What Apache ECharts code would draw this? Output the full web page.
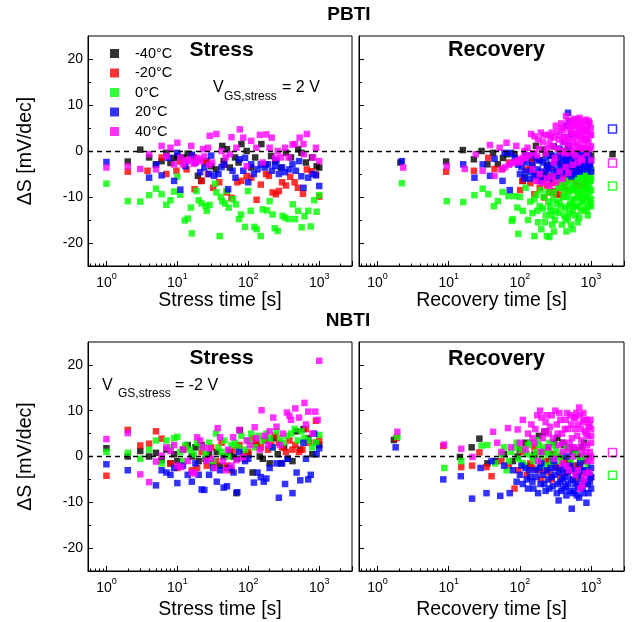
<!DOCTYPE html>
<html>
<head>
<meta charset="utf-8">
<title>PBTI / NBTI</title>
<script src="https://cdn.jsdelivr.net/npm/echarts@6/dist/echarts.min.js"></script>
<style>
    html, body { margin: 0; padding: 0; background: #fff; }
    #container { width: 638px; height: 622px; }
</style>
</head>
<body>
<div id="container"></div>
<script>
var temps = ['-40°C', '-20°C', '0°C', '20°C', '40°C'];
var colors = ['#000000', '#ff0000', '#00ff00', '#0000ff', '#ff00ff'];
var yLabelTicks = [-20, -10, 0, 10, 20];
var yMinorTicks = [-15, -5, 5, 15];

// PBTI stress  [time s, dS mV/dec]
var pbtiStressM40 = [[2,-2.3],[3,0.3],[4,-1.4],[5,-2.9],[6,-2.2],[7,-0.4],[8,-2.6],[9,-1.5],[10,-1.1],[12,-1.4],[14,-0.6],[17,-1.4],[19.5,-5.4],[21.7,-6.5],[26,-2.2],[30,-3.3],[35,-4],[43,1.1],[45,-2.2],[50,0.4],[55,-3.6],[65,-1.4],[73,-2.5],[80,1.5],[95,0],[110,-3.6],[125,-1.4],[153,1.5],[175,-2.9],[210,-1.1],[240,-2.2],[290,-3.6],[340,-0.4],[400,-1.4],[505,0.4],[560,-0.4],[650,-2.5],[790,-1.4],[920,-3.3],[1000,-3.6]];
var pbtiStressM20 = [[2,-4.5],[3.8,-4.3],[6,-1.4],[7,-5],[9.7,-4.3],[11,-2.3],[13.5,-4],[16,-1],[17.5,-8.3],[22,-6.5],[25,-2.5],[27,-5],[32,-8],[39,-6.8],[45,-3],[50,-9],[58,-10.2],[70,-6.8],[80,-6.5],[95,-5.4],[110,-5.8],[131,-10.6],[150,-7.3],[178,-5],[195,-5.4],[220,-9],[245,-9.4],[270,-8.7],[300,-6.8],[340,-7.5],[390,-5.6],[450,-6.8],[500,-8],[590,-9.3],[670,-4],[780,-4.4],[900,-5.1],[1000,-9.9]];
var pbtiStress0 = [[1,-7.1],[2,-10.9],[3,-11],[4,-9.6],[5,-8.2],[6,-9.4],[7,-11.7],[8,-10.7],[9,-8.8],[10,-5.6],[11,-9.5],[12.7,-15.1],[14,-14.7],[15.5,-12.3],[16,-17.9],[18.6,-8.7],[20,-10.7],[22,-11.4],[25,-12],[26,-13],[28.5,-11.7],[34,-7.1],[35.5,-9],[39.5,-18.5],[41,-10],[43,-10.9],[47,-11.4],[49,-8.7],[53,-12.3],[61,-10.5],[67,-11.6],[74,-14.8],[79,-13.8],[90,-16.5],[99,-8.7],[108,-13],[122,-16.5],[131,-17],[150,-18.5],[160,-12.7],[183,-12.9],[200,-10.9],[220,-13.8],[236,-16.8],[260,-17.4],[305,-14.1],[330,-14.5],[370,-14.8],[425,-11.6],[455,-14.8],[505,-13],[565,-16.6],[620,-14.2],[700,-13],[760,-16.4],[850,-10.7],[920,-13.2],[1000,-9.6]];
var pbtiStress20 = [[1,-2.4],[4,-5.8],[5,-3],[6,-5.3],[7.5,-1.5],[9,-6.5],[10,-0.4],[11,-8.4],[13,-3.3],[16,-0.8],[18,-2.5],[21,-4.6],[24,-3.6],[28,-5],[30,-1],[33,-5.4],[38,-5],[42,-3.5],[46,-2.9],[52,-8.3],[60,-4.3],[66,-5.8],[75,-1.8],[85,-4.3],[90,-1.5],[100,-6.8],[110,-2.9],[120,-5],[135,-4],[150,-2.9],[170,-3.6],[190,-2.9],[215,-4.3],[240,-3.3],[250,-2],[270,-5],[300,-3.6],[330,-4.6],[380,-4],[420,-2.9],[470,-4.3],[520,-2.2],[560,-5.5],[600,-8],[700,-5.8],[820,-5],[900,-5.3],[1000,-7.6]];
var pbtiStress40 = [[1,-3.6],[2,-3.3],[3,-3.9],[4,-0.7],[5,-4],[6,1.1],[7,-1.1],[8,0.7],[9,-2.9],[10,1.8],[11,-1.4],[12,-2.9],[13,-2],[14,-2.2],[15,-1.8],[15.7,1.1],[17,-2.8],[18,-2.5],[19,-1.5],[20,-1.8],[21,-2.2],[23,0.4],[24,-1.2],[27,0.7],[28,-3],[28.6,3.3],[31,-2.5],[35.5,3.7],[42,0],[48,-1.4],[55,-0.7],[58,3],[68,0.7],[76,4.7],[85,2.9],[95,-3.3],[110,2.2],[130,0.7],[146,3.5],[160,-2.5],[180,3.6],[200,0.7],[214,2.9],[240,-1.5],[260,0],[290,-1.4],[330,0.7],[370,-1.4],[420,1.4],[455,1.5],[530,2.9],[600,1.5],[610,-0.7],[670,3.7],[820,-1.4],[900,0.7],[1000,-2.2]];

// PBTI recovery
var pbtiRecM40 = [[2.1,-2.5],[9.2,-2.3],[15.8,0.2],[22.6,-1.8],[29,0],[35,-2.9],[42,-0.4],[49,-2.9],[58,-1.5],[67,-0.7],[84,-0.7],[109,-6.5],[116,-5.8],[120,-1],[140,-4],[150,-1.5],[168,1.1],[190,-2],[210,0.3],[230,-0.5],[240,-3],[270,-1],[300,1],[320,-1.5],[340,-2.5],[380,0],[430,-1.5],[450,0],[480,1],[520,-1],[540,-3],[600,-0.5],[640,-1],[680,-2],[720,-2.5],[760,0.5],[820,-1.5],[870,-0.4],[950,-2.5],[1000,-1],[2000,-0.7]];
var pbtiRecM20 = [[9.2,-4.5],[22.6,-4.3],[36,-1.5],[44,-3.9],[57,-3.9],[71,-2.5],[101,-8.5],[110,-6.5],[125,-4],[140,-7],[150,-2.5],[160,-9.4],[175,-5],[180,-6.5],[190,-8],[205,-6],[220,-10.1],[230,-4.5],[240,-7.5],[260,-9],[270,-3.5],[280,-5.5],[290,-7],[300,-8.7],[320,-9.4],[320,-2],[340,-6.5],[350,-5.5],[360,-9.5],[380,-8],[390,-5],[400,-3],[420,-7.5],[430,-6],[450,-4],[470,-8.5],[490,-2.9],[520,-6],[540,-4.5],[560,-3.5],[590,-8],[610,-6.9],[630,-4],[650,-5],[700,-2.5],[720,-7.5],[750,-6],[780,-5],[800,-4],[850,-7],[880,-5.5],[930,-4.3],[960,-6.5],[1000,-4]];
var pbtiRec0 = [[2.2,-7],[9.4,-10.9],[16,-11.1],[23,-9.6],[30,-8.2],[36,-9.4],[43,-12],[49,-10.9],[57,-8.9],[69,-9.8],[77,-15.2],[79,-14.8],[84,-9.8],[92,-12.3],[95,-18],[100,-10],[110,-13],[120,-8],[130,-15],[140,-11],[150,-13.5],[160,-18.5],[160,-10.5],[170,-9.5],[175,-13],[180,-15.5],[190,-12],[195,-8.5],[200,-17],[210,-12.5],[215,-10],[225,-15.5],[230,-14],[240,-18.5],[245,-9],[250,-11],[260,-18.7],[265,-12],[270,-13],[280,-14],[285,-16],[295,-10.5],[300,-9],[300,-17.5],[310,-15],[320,-13],[330,-11.5],[340,-6],[350,-13.5],[350,-8],[360,-11],[370,-7.5],[380,-12],[390,-16],[400,-8],[410,-10],[420,-9],[420,-14],[430,-12.5],[440,-15],[450,-6.5],[450,-10],[450,-17.5],[470,-14.5],[470,-7.5],[480,-12],[490,-9],[500,-13.5],[510,-11.5],[520,-16],[520,-8.5],[530,-5.5],[540,-10.5],[550,-13],[550,-17],[560,-7],[560,-12],[580,-8],[580,-5.5],[600,-10.5],[600,-14],[600,-8.5],[620,-4.5],[620,-12],[640,-9],[640,-6],[650,-12],[650,-15.5],[660,-10],[680,-7],[680,-14.5],[700,-9.5],[700,-5.5],[720,-13],[720,-8],[730,-5],[740,-11],[760,-11],[760,-6],[780,-9],[790,-6.5],[800,-10],[800,-12.5],[820,-8.5],[830,-5],[850,-4],[850,-7.5],[870,-13],[880,-10],[890,-8],[900,-12],[900,-14],[910,-6],[920,-10.5],[940,-7.5],[940,-4.5],[950,-9],[960,-11.5],[970,-5],[980,-6.5],[1000,-8.5],[1000,-4],[1000,-10.5],[1000,-12],[1000,-6]];
var pbtiRec20 = [[2.2,-2.2],[16,-2.9],[23,-5.8],[30,-2.9],[38,-5.4],[44,-1.7],[57,-6.5],[61,-0.4],[72,-8.5],[75,-0.4],[85,-1.5],[95,-3],[100,-5],[105,-3.5],[110,-2],[115,-6],[120,-4.5],[125,-2.5],[130,-1],[140,-6],[145,-4.5],[150,-3],[155,-1],[160,-5.5],[170,-1.5],[175,-5.5],[180,-4],[185,-2],[195,-6.5],[200,-4.5],[210,-2.5],[220,-6],[225,-5],[235,-1.5],[240,-3.5],[250,-4],[260,-6],[270,-3],[280,-1],[290,-5.5],[300,-4.5],[310,-2],[320,-2.5],[330,-4],[340,-5.5],[350,-1],[360,0.5],[370,-5],[380,-3.5],[390,-2.5],[400,-1.5],[410,-4.5],[420,2],[430,-1],[440,-4],[450,5.5],[450,-3],[460,-2],[470,-5],[475,8.3],[490,1],[500,6.5],[500,-1.5],[510,-3],[520,3.5],[530,-5.5],[540,-3.5],[550,-1],[570,-5],[580,-2.5],[600,-2],[610,-4.5],[630,-3.5],[640,-0.5],[660,-1],[670,-3],[690,-4.5],[700,-1.5],[720,-3],[740,-4],[760,-1],[780,-2],[800,-3.5],[820,-0.5],[840,-2],[860,-3],[880,-4],[900,-1.5],[920,-0.5],[950,-3.5],[970,-3],[1000,-2],[1000,-4.5]];
var pbtiRec40 = [[2.3,-3.6],[9.4,-3.3],[16.8,-3.9],[24,-0.7],[30,-4.3],[38,1.3],[44,-5.4],[52,0.7],[55,-4],[62,-3.5],[65,1.8],[70,-3],[78,-2.7],[86,-2.4],[89,1.1],[95,-2],[100,-2.5],[105,-1.8],[110,-1.5],[116,0],[120,-1.5],[128,0.7],[135,-1],[144,3.7],[150,-4],[155,-0.5],[160,3.2],[170,-6.5],[175,-1],[180,2.5],[185,0.5],[190,-5],[197,4],[210,2],[210,-7],[220,3.5],[230,-0.5],[240,-6],[240,0.5],[250,3.5],[260,-7.5],[260,1.5],[270,2.9],[280,4],[290,1],[290,-5.5],[300,3],[300,-2.5],[310,-1.5],[320,-6.8],[320,5.5],[330,4.2],[340,0.5],[350,2.5],[360,-4.5],[360,3.5],[370,0],[380,6],[390,5],[400,-6],[400,2],[410,4.5],[420,3],[420,-0.5],[430,0],[440,-3.5],[445,7.6],[450,3],[460,1.5],[470,6.5],[480,5.5],[480,-4.8],[490,2.5],[500,-0.5],[510,5],[520,4],[530,1],[540,6.5],[550,-3],[550,4],[560,2],[570,7],[580,5.5],[580,0],[590,3],[600,-1],[610,5.5],[620,3.5],[630,1.5],[640,6.8],[650,-2.5],[660,1],[660,4],[680,4.5],[690,7.2],[700,6],[700,0.5],[710,2.5],[720,-1.5],[730,5],[740,3],[750,-2],[760,5.5],[770,3.5],[780,0.5],[790,1.5],[800,6.5],[820,2.5],[830,4.5],[850,4.5],[860,6.8],[870,-0.5],[880,2.5],[880,0.5],[900,5.5],[910,4],[920,2],[930,6.5],[950,6],[960,0.5],[970,3.5],[990,5],[1000,1],[1000,-2],[1000,3.5]];
var pbtiRecEnd0 = [[2000,-7.6]];
var pbtiRecEnd20 = [[2000,4.8]];
var pbtiRecEnd40 = [[2000,-2.6]];

// NBTI stress
var nbtiStressM40 = [[1,1.8],[2,0],[3,1.2],[4,0],[5,0.8],[6,-0.8],[7,1.5],[8,-1.5],[9,0.5],[10,-1],[12,1.5],[14,2.5],[16,0],[18,2],[20,-1],[22,2.5],[25,-0.5],[28,0.5],[32,-1.5],[36,1],[40,-2],[45,0],[50,-2.5],[55,1],[62,0],[68,-8],[70,-0.5],[76,5.7],[90,-0.5],[100,0.5],[115,-3.5],[130,2.5],[145,0],[160,-0.5],[180,3.5],[200,-1.5],[230,4],[260,0.5],[290,-1.5],[320,2],[360,-0.5],[420,-1],[480,5.5],[540,1.5],[600,6],[700,4],[800,0.5],[900,3],[1000,2.5]];
var nbtiStressM20 = [[1,-4.2],[2,5.8],[3,2.4],[4,2.8],[5,5.5],[6,3.9],[8,-1.5],[10,-2.5],[13,2],[16,-3],[19,-2.5],[22,1],[26,-2],[30,2],[35,-1],[42,3],[50,-2],[58,-3],[65,1.5],[75,2.5],[85,0.5],[100,1],[115,4],[130,3],[150,2],[170,3.5],[190,1.5],[210,2.5],[240,4.5],[270,3],[300,2],[340,1],[380,3.5],[420,1.5],[460,2.5],[520,1],[580,1.5],[650,6],[720,3],[900,7.8],[1000,3.5]];
var nbtiStress0 = [[1,1],[2,0.8],[3,-0.5],[4,1.5],[5,3.5],[6,-1.5],[7,3.5],[8,2],[9,4],[10,4.3],[11,1],[12,-1],[13,2.5],[15,1.5],[17,0.5],[19,3],[22,2],[25,0.5],[28,3],[32,-1],[35,5],[38,2],[42,1],[46,3.5],[52,0],[58,2.5],[65,3],[72,2],[80,4.5],[90,1.5],[100,3.5],[110,5],[125,2],[140,4.5],[160,3.5],[180,5],[200,4],[220,2],[250,5.5],[280,4],[310,3],[350,4.5],[400,5],[450,6],[500,3.5],[560,5.5],[620,4],[700,3.5],[800,2],[900,3],[1000,4.7]];
var nbtiStress20 = [[1,-1.7],[2,-3],[5,-6.3],[6,-3],[7,-3.5],[8,-4],[9,-2.5],[10,-5.8],[12,-2],[14,-4],[16,-5.5],[18,-1.5],[20,-4],[22,-7.2],[24,-7.3],[28,-4],[32,-2.5],[36,-5.5],[40,-3],[45,-6.8],[50,-6.5],[55,-2.5],[62,-3.5],[70,-7.8],[75,1],[80,-3],[90,-1],[100,-0.5],[120,-5.7],[135,-3.5],[150,-4.5],[165,-5.5],[180,-4.8],[200,-2.5],[220,2],[250,-1.5],[270,-9],[300,-1.5],[330,-6],[360,-0.5],[420,-8],[480,-3.5],[540,-5.2],[600,3],[650,-0.5],[700,-5],[760,-4],[850,5],[920,0.5],[1000,1.8]];
var nbtiStress40 = [[1,3.8],[2,5.1],[3,-3.9],[4,-5.6],[5,-1.1],[6,0.2],[7,2],[8,1.2],[9,2.5],[10,-2],[11.4,-2.3],[12,1.5],[14,-1],[16,-3.5],[17.5,-3.7],[19,4.2],[21,3.5],[23,2],[25.6,-0.9],[28,1.8],[30,-0.5],[33,-2.5],[37,6.2],[40,4.2],[44,-1],[48,-3],[52,1.5],[58,-2],[61,4.2],[68,-0.8],[75,5.8],[85,-0.2],[95,3.5],[105,2.5],[123,6.4],[130,4],[145,1.5],[154,10.1],[170,4.5],[190,2.5],[200,5.5],[225,8.5],[250,6.5],[280,2.5],[310,5],[350,9.6],[380,8.9],[400,8],[460,10.5],[520,8.5],[620,11.7],[650,7],[700,9.8],[800,5],[880,9.8],[950,8],[1000,20.9]];

// NBTI recovery
var nbtiRecM40 = [[1.7,3.6],[14.4,-0.1],[21,2],[27,3.9],[35,-1.5],[45,-1],[60,0.5],[80,-1],[93,0],[100,1.5],[120,3],[140,-2],[160,0.4],[185,4.5],[210,1],[220,5.3],[232,5.5],[250,2],[260,-1],[280,0.5],[300,3],[335,4.1],[380,0],[400,3],[420,2.5],[480,-1.5],[500,2],[550,1],[600,1.5],[650,-2],[700,0],[750,2],[800,3],[850,-1],[930,-0.1]];
var nbtiRecM20 = [[1.85,4],[8.4,2.3],[15,-2.3],[21.3,-2],[27,0.9],[34,-2.3],[40,-4.3],[55,-1],[70,-2],[84,-7],[95,-3],[110,1],[125,-4],[140,-1.5],[150,-2.5],[160,2],[180,-3],[200,-5],[220,-3],[230,-1],[260,-3.5],[280,-5],[300,0.5],[320,-2],[340,-2.5],[380,-4.5],[430,-1],[450,-3.5],[500,-3],[550,-2],[600,-5],[650,-4],[700,-2],[750,-3.5],[800,-6],[900,-3.5],[1000,-4.5]];
var nbtiRec0 = [[1.9,4.3],[8.7,-2.5],[15,-1],[29,2.4],[35,2.5],[45,-1.5],[55,0.5],[60,2],[65,-3],[70,-1],[75,1],[85,2],[90,3],[95,-0.5],[105,1.5],[110,-1.5],[115,-2],[125,0.5],[130,2.5],[140,3],[150,0],[155,-1],[170,1],[175,3.5],[185,2.5],[195,-2],[200,-0.5],[215,2],[220,1],[240,-2],[250,0.5],[260,3],[280,-1.5],[290,0],[310,2.5],[320,1.5],[330,0],[360,-1],[400,0.5],[450,2],[520,-1],[600,0.5],[700,-0.5],[790,0],[900,-2]];
var nbtiRec20 = [[1.8,2],[8.4,-5],[14.8,-4.3],[21.3,-9.2],[28,-2.5],[34,-8],[40,-1],[53,-8.6],[60,-2],[72,-8],[80,-3],[90,-5.5],[100,-4],[105,-2],[110,-6],[120,-2.5],[125,-5],[130,-7],[135,-3],[140,-4.5],[150,-5.5],[155,-7],[165,-3],[170,-4.5],[180,-8],[190,-2.5],[195,-6],[200,-1.5],[210,-4],[220,-6],[230,-7.5],[240,-3],[250,-5],[260,-7],[270,-2.5],[280,-4.5],[290,-6.5],[300,-1],[310,-4],[320,-2.5],[330,-8],[340,-6],[350,-9.6],[360,-3.5],[370,-5.5],[380,-7.5],[390,-3],[400,-5],[410,-7],[420,-2],[430,-4.5],[440,-6.5],[450,-8.5],[450,0],[470,-3.5],[480,-6],[500,-7.5],[510,-2],[520,-5],[535,-11.4],[550,-8],[560,-5],[570,-3],[590,-7.5],[600,-6],[620,-3.5],[630,-8.5],[650,-6.5],[660,-4],[680,-9],[690,-6.5],[700,-1.5],[720,-5],[740,-3],[760,-7],[780,-8],[800,-3],[820,-5.5],[860,-10.1],[880,-3.5],[900,-6],[920,-8],[950,-4],[960,-5.5],[1000,-7],[1000,-2.5],[1000,-4.5]];
var nbtiRec40 = [[1.9,5.4],[8.6,2.6],[15,1.7],[21.6,-0.1],[42,5.4],[48,3],[55,1],[68,6.2],[75,2],[93,5.9],[100,3],[110,8],[120,1.5],[130,5],[145,7],[150,4],[160,3],[165,6],[175,9],[180,-1],[192,10],[200,1],[200,8.5],[210,4],[220,5.5],[230,7.5],[240,9],[250,2],[255,5],[265,6.5],[280,9],[290,4],[300,-0.5],[315,10],[330,7],[340,5],[350,2.5],[360,9.5],[370,8],[390,5],[400,1],[400,-1.5],[410,3],[430,6],[440,8],[450,-2],[460,9.5],[470,6],[480,1.5],[490,-3],[500,3],[510,9],[530,7],[540,4],[550,2],[560,0],[570,8.5],[590,6],[600,8.5],[600,-4],[620,9.5],[620,2],[640,4.5],[650,-3],[660,7],[680,10.7],[700,9],[700,-7],[720,6],[730,3.5],[740,0.5],[750,-6.3],[760,2],[770,7.5],[780,9.5],[800,8],[800,-5],[820,5.5],[840,-3.7],[850,5],[850,1],[870,8],[880,2.5],[900,-1],[900,4.5],[920,6.5],[950,7],[950,-3.5],[960,1],[980,8],[1000,3],[1000,6],[1000,-1],[1000,4.5],[1000,0]];
var nbtiRecEnd0 = [[2000,-4.1]];
var nbtiRecEnd40 = [[2000,0.9]];

BtiChartModule = (function (echarts) {
    var FONT = '"Liberation Sans", Arial, sans-serif';
    var chart;

    function logLabel(v) {
        var e = Math.log10(v);
        if (Math.abs(e - Math.round(e)) > 1e-6) return '';
        return '{b|10}{p|' + Math.round(e) + '}';
    }

    function filled(name, data, k, c) {
        return {
            type: 'scatter', name: name, data: data,
            xAxisIndex: k, yAxisIndex: k,
            symbol: 'rect', symbolSize: 6.5,
            itemStyle: { color: c },
            silent: true
        };
    }

    function hollow(data, k, c) {
        return {
            type: 'scatter', name: 'end', data: data,
            xAxisIndex: k, yAxisIndex: k,
            symbol: 'rect', symbolSize: 8,
            itemStyle: { color: '#fff', borderColor: c, borderWidth: 1.5 },
            silent: true
        };
    }

    var BtiClass = function () {
        this.init = function () {
            chart = echarts.init(document.getElementById('container'), null, { renderer: 'canvas' });
            chart.setOption(this.buildOption());
        };
    };

    BtiClass.prototype = {
        buildOption: function () {
            var grids = [
                { left: 88, top: 36, width: 264, height: 230 },
                { left: 359, top: 36, width: 265, height: 230 },
                { left: 88, top: 342, width: 264, height: 229 },
                { left: 359, top: 342, width: 265, height: 229 }
            ];
            var panels = [
                [pbtiStressM40, pbtiStressM20, pbtiStress0, pbtiStress20, pbtiStress40],
                [pbtiRecM40, pbtiRecM20, pbtiRec0, pbtiRec20, pbtiRec40],
                [nbtiStressM40, nbtiStressM20, nbtiStress0, nbtiStress20, nbtiStress40],
                [nbtiRecM40, nbtiRecM20, nbtiRec0, nbtiRec20, nbtiRec40]
            ];
            var xAxes = [], yAxes = [], series = [];

            grids.forEach(function (g, k) {
                g.show = true;
                g.borderColor = '#000';
                g.borderWidth = 1;
                g.outerBoundsMode = 'none';
                xAxes.push({
                    type: 'log', gridIndex: k, min: 0.55, max: 2900,
                    name: k % 2 ? 'Recovery time [s]' : 'Stress time [s]',
                    nameLocation: 'middle', nameGap: k < 2 ? 24 : 29,
                    nameTextStyle: { fontFamily: FONT, fontSize: 19.5, color: '#000' },
                    axisLine: { show: true, onZero: false, lineStyle: { color: '#000', width: 1 } },
                    axisTick: { show: true, inside: true, length: 5, lineStyle: { color: '#000' } },
                    minorTick: { show: true, splitNumber: 9, length: 2.5, lineStyle: { color: '#000' } },
                    splitLine: { show: false },
                    minorSplitLine: { show: false },
                    axisLabel: {
                        margin: 6, formatter: logLabel, color: '#000',
                        rich: {
                            b: { fontFamily: FONT, fontSize: 14, color: '#000', lineHeight: 18, verticalAlign: 'bottom' },
                            p: { fontFamily: FONT, fontSize: 9, color: '#000', lineHeight: 18, verticalAlign: 'top' }
                        }
                    }
                });
                yAxes.push({
                    type: 'value', gridIndex: k, min: -25, max: 25, interval: 5, position: 'left',
                    name: k % 2 ? '' : 'ΔS [mV/dec]',
                    nameLocation: 'middle', nameGap: 52, nameRotate: 90,
                    nameTextStyle: { fontFamily: FONT, fontSize: 19.5, color: '#000' },
                    axisLine: { show: true, onZero: false, lineStyle: { color: '#000', width: 1 } },
                    axisTick: { show: true, inside: true, length: 5, customValues: yLabelTicks, lineStyle: { color: '#000' } },
                    splitLine: { show: false },
                    axisLabel: {
                        show: k % 2 === 0, margin: 5, customValues: yLabelTicks,
                        fontFamily: FONT, fontSize: 14, color: '#000'
                    }
                });

                panels[k].forEach(function (data, i) {
                    var s = filled(temps[i], data, k, colors[i]);
                    if (i === 4) {
                        // zero reference line
                        s.markLine = {
                            silent: true, symbol: 'none', animation: false,
                            label: { show: false },
                            lineStyle: { color: '#000', type: [5, 4], width: 1.3 },
                            data: [{ yAxis: 0 }]
                        };
                    }
                    series.push(s);
                });
            });

            // shorter ticks at odd multiples of 5
            grids.forEach(function (g, k) {
                yAxes.push({
                    type: 'value', gridIndex: k, min: -25, max: 25, interval: 5, position: 'left', offset: 0,
                    axisLine: { show: false, onZero: false },
                    axisTick: { show: true, inside: true, length: 3, customValues: yMinorTicks, lineStyle: { color: '#000' } },
                    axisLabel: { show: false },
                    splitLine: { show: false }
                });
            });

            series.push(hollow(pbtiRecEnd20, 1, colors[3]));
            series.push(hollow(pbtiRecEnd40, 1, colors[4]));
            series.push(hollow(pbtiRecEnd0, 1, colors[2]));
            series.push(hollow(nbtiRecEnd40, 3, colors[4]));
            series.push(hollow(nbtiRecEnd0, 3, colors[2]));

            function txt(text, x, y, size, bold, align) {
                return {
                    type: 'text', x: x, y: y, silent: true,
                    style: {
                        text: text, fill: '#000',
                        font: (bold ? 'bold ' : '') + size + 'px ' + FONT,
                        textAlign: align || 'center', textVerticalAlign: 'middle',
                        align: align || 'center', verticalAlign: 'middle'
                    }
                };
            }

            return {
                animation: false,
                backgroundColor: '#fff',
                grid: grids,
                xAxis: xAxes,
                yAxis: yAxes,
                legend: {
                    data: temps, orient: 'vertical', left: 105, top: 41,
                    itemWidth: 9, itemHeight: 9, itemGap: 4.5, icon: 'rect',
                    selectedMode: false,
                    textStyle: { fontFamily: FONT, fontSize: 14.5, color: '#000', padding: [0, 0, 0, 11] }
                },
                graphic: [
                    txt('PBTI', 349, 15, 19, true),
                    txt('NBTI', 348, 321, 19, true),
                    txt('Stress', 221.5, 50, 21, true),
                    txt('Recovery', 496.5, 50, 21.5, true),
                    txt('Stress', 221.5, 358, 21, true),
                    txt('Recovery', 496.5, 359.5, 21.5, true),
                    txt('V', 213, 88, 16, false, 'left'),
                    txt('GS,stress', 224, 97, 12, false, 'left'),
                    txt('= 2 V', 282, 88, 16, false, 'left'),
                    txt('V', 102, 385.5, 16, false, 'left'),
                    txt('GS,stress', 118, 393.5, 12, false, 'left'),
                    txt('= -2 V', 175, 385.5, 16, false, 'left')
                ],
                series: series
            };
        },
        constructor: BtiClass
    };
    return new BtiClass();
})(echarts);
BtiChartModule.init();
</script>
</body>
</html>
